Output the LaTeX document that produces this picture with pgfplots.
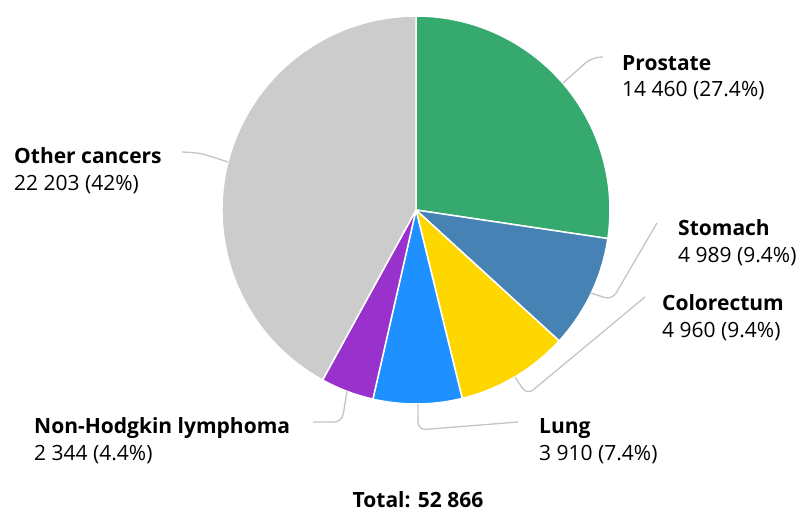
\documentclass[border=0pt]{standalone}
\usepackage{pgfplots}
\pgfplotsset{compat=1.18}
\usepackage{fontspec}
\setmainfont{Open Sans}
\definecolor{cProstate}{HTML}{36A96E}
\definecolor{cStomach}{HTML}{4682B4}
\definecolor{cColo}{HTML}{FFD700}
\definecolor{cLung}{HTML}{1E90FF}
\definecolor{cNHL}{HTML}{9932CC}
\definecolor{cOther}{HTML}{CCCCCC}
\definecolor{cLead}{HTML}{C4C4C4}
% data
\def\vA{14460}\def\vB{4989}\def\vC{4960}\def\vD{3910}\def\vE{2344}\def\vF{22203}
\edef\tot{\fpeval{\vA+\vB+\vC+\vD+\vE+\vF}}
\edef\aO{90}
\edef\aA{\fpeval{round(\aO-360*\vA/\tot,4)}}
\edef\aB{\fpeval{round(\aA-360*\vB/\tot,4)}}
\edef\aC{\fpeval{round(\aB-360*\vC/\tot,4)}}
\edef\aD{\fpeval{round(\aC-360*\vD/\tot,4)}}
\edef\aE{\fpeval{round(\aD-360*\vE/\tot,4)}}
\edef\aF{\fpeval{round(\aE-360*\vF/\tot,4)}}
\begin{document}
\begin{tikzpicture}
\begin{axis}[
  width=798pt, height=514pt, scale only axis,
  xmin=0, xmax=798, ymin=0, ymax=514,
  hide axis, clip=false,
]
\path (axis cs:0,0) -- (axis cs:798,514);
\newcommand\slice[3]{%
  \fill[#3, draw=white, line width=1.5pt, line join=round]
    (axis cs:416,304) -- (axis cs:{416+194*cos(#1)},{304+194*sin(#1)})
    arc[start angle=#1, end angle=#2, radius=194pt] -- cycle;}
\slice{\aO}{\aA}{cProstate}
\slice{\aA}{\aB}{cStomach}
\slice{\aB}{\aC}{cColo}
\slice{\aC}{\aD}{cLung}
\slice{\aD}{\aE}{cNHL}
\slice{\aE}{\aF}{cOther}
% leader lines
\begin{scope}[draw=cLead, line width=1.3pt, rounded corners=8pt]
\draw (axis cs:563,431) -- (axis cs:591,456) -- (axis cs:603,457);
\draw (axis cs:591,221) -- (axis cs:612,214) -- (axis cs:657,291);
\draw (axis cs:515,137) -- (axis cs:527,119) -- (axis cs:645,217);
\draw (axis cs:418,110) -- (axis cs:418,84) -- (axis cs:518,92);
\draw (axis cs:347,123) -- (axis cs:342,92) -- (axis cs:313,92);
\draw (axis cs:228,352) -- (axis cs:200,361) -- (axis cs:182,362);
\end{scope}
% labels
\tikzset{lab/.style={anchor=base west, inner sep=0pt, font=\fontsize{21}{25}\selectfont}}
\node[lab] at (axis cs:622,443) {\bfseries Prostate};
\node[lab] at (axis cs:622,417) {14 460 (27.4\%)};
\node[lab] at (axis cs:678,278) {\bfseries Stomach};
\node[lab] at (axis cs:678,251) {4 989 (9.4\%)};
\node[lab] at (axis cs:662,203) {\bfseries Colorectum};
\node[lab] at (axis cs:662,176) {4 960 (9.4\%)};
\node[lab] at (axis cs:539,80) {\bfseries Lung};
\node[lab] at (axis cs:539,53) {3 910 (7.4\%)};
\node[lab] at (axis cs:34,80) {\bfseries Non-Hodgkin lymphoma};
\node[lab] at (axis cs:34,53) {2 344 (4.4\%)};
\node[lab] at (axis cs:14,350) {\bfseries Other cancers};
\node[lab] at (axis cs:14,323) {22 203 (42\%)};
\node[anchor=base, inner sep=0pt, font=\fontsize{21}{25}\selectfont\bfseries] at (axis cs:418,6) {Total: 52 866};
\end{axis}
\end{tikzpicture}
\end{document}
